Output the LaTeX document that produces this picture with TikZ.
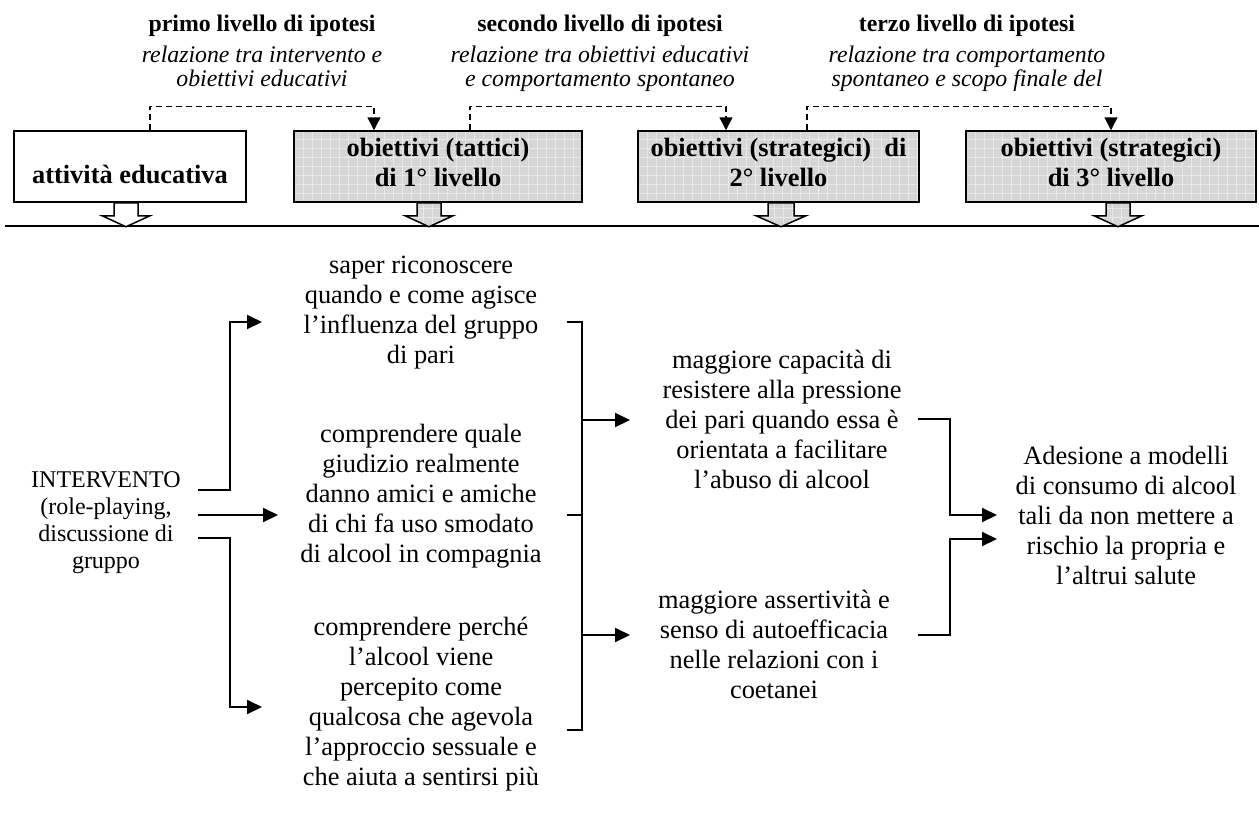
\documentclass[tikz,border=0pt]{standalone}
\usepackage{fontspec}
\setmainfont{Liberation Serif}
\usetikzlibrary{arrows.meta,calc}
\definecolor{boxgray}{RGB}{214,214,214}
\definecolor{gridgray}{RGB}{232,232,232}
\tikzset{
  struts/.style 2 args={execute at begin node={\rule{0pt}{#1pt}},
                        execute at end node={\rule[-#2pt]{0pt}{#2pt}}},
  gridfill/.style={fill=boxgray, path picture={
      \coordinate (pA) at (path picture bounding box.south west);
      \coordinate (pB) at (path picture bounding box.north east);
      \foreach \k in {0,...,34}{\draw[gridgray,line width=0.8pt] ([xshift={\k*9}]pA) -- ([xshift={\k*9}]pA |- pB);}
      \foreach \k in {0,...,10}{\draw[gridgray,line width=0.8pt] ([yshift={\k*9}]pA) -- ([yshift={\k*9}]pA -| pB);}
  }},
  bodytxt/.style={align=center, inner sep=0pt, font=\fontsize{26.4}{30}\selectfont, struts={22}{22}},
  hdr/.style={align=center, inner sep=0pt, font=\fontsize{23.8}{24}\selectfont, struts={22}{22}},
  hbox/.style={draw, line width=1.5pt, inner sep=0pt, minimum height=71pt, align=center,
               font=\bfseries\fontsize{26.4}{30}\selectfont},
  twoline/.style={struts={25}{8}},
  oneline/.style={struts={39}{6}},
  conn/.style={line width=2pt, -{Triangle[length=15pt,width=14pt]}},
  brk/.style={line width=2pt},
  dasharr/.style={line width=1.5pt, dash pattern=on 6pt off 4pt, -{Triangle[length=13pt,width=13pt]}},
  barrow/.style={line width=1.5pt},
}
\begin{document}
\begin{tikzpicture}[x=1pt,y=-1pt]
\useasboundingbox (0,0) rectangle (1259,820);

% headers
\node[hdr] (h1) at (262,61.5) {\textbf{primo livello di ipotesi}\\[7pt]\textit{relazione tra intervento e}\\\textit{obiettivi educativi}};
\node[hdr] (h2) at (600,61.5) {\textbf{secondo livello di ipotesi}\\[7pt]\textit{relazione tra obiettivi educativi}\\\textit{e comportamento spontaneo}};
\node[hdr] (h3) at (967,61.5) {\textbf{terzo livello di ipotesi}\\[7pt]\textit{relazione tra comportamento}\\\textit{spontaneo e scopo finale del}};

% rule
\coordinate (rl) at (5,226);
\coordinate (rr) at (1259,226);
\draw[line width=2pt] (rl) -- (rr);

% boxes
\node[hbox, oneline, fill=white, minimum width=232pt] (b1) at (130,166.5) {attività educativa};
\node[hbox, twoline, gridfill, minimum width=288pt] (b2) at (438,166.5) {obiettivi (tattici)\\di 1° livello};
\node[hbox, twoline, gridfill, minimum width=281pt] (b3) at (778.5,166.5) {obiettivi (strategici)~~di\\2° livello};
\node[hbox, twoline, gridfill, minimum width=290pt] (b4) at (1111,166.5) {obiettivi (strategici)\\di 3° livello};

% block arrows
\draw[barrow, fill=white] ([xshift=-16]b1.south) -- ++(0,13) -- ++(-12,0) -- ++(24,11) -- ++(24,-11) -- ++(-12,0) -- ++(0,-13) -- cycle;
\draw[barrow, gridfill] ([xshift=-9]b2.south) -- ++(-12,0) -- ++(0,13) -- ++(-12,0) -- ++(24,11) -- ++(24,-11) -- ++(-12,0) -- ++(0,-13) -- cycle;
\draw[barrow, gridfill] ([xshift=2.5]b3.south) -- ++(-13,0) -- ++(0,13) -- ++(-12,0) -- ++(25,11) -- ++(25,-11) -- ++(-12,0) -- ++(0,-13) -- cycle;
\draw[barrow, gridfill] ([xshift=7]b4.south) -- ++(-12,0) -- ++(0,13) -- ++(-12,0) -- ++(24,11) -- ++(24,-11) -- ++(-12,0) -- ++(0,-13) -- cycle;

% dashed hypothesis arrows
\draw[dasharr] ([xshift=20]b1.north) -- ++(0,-24) -| ([xshift=-64]b2.north);
\draw[dasharr] ([xshift=32]b2.north) -- ++(0,-24) -| ([xshift=-52.5]b3.north);
\draw[dasharr] ([xshift=28.5]b3.north) -- ++(0,-24) -| (b4.north);

% lower texts
\node[align=center, inner sep=0pt, font=\fontsize{24}{27}\selectfont, struts={22}{22}] (iv) at (106,531.5)
  {INTERVENTO\\(role-playing,\\discussione di\\gruppo};
\node[bodytxt] (t1) at (421,321) {saper riconoscere\\quando e come agisce\\l’influenza del gruppo\\di pari};
\node[bodytxt] (t2) at (421,504) {comprendere quale\\giudizio realmente\\danno amici e amiche\\di chi fa uso smodato\\di alcool in compagnia};
\node[bodytxt] (t3) at (421,712) {comprendere perché\\l’alcool viene\\percepito come\\qualcosa che agevola\\l’approccio sessuale e\\che aiuta a sentirsi più};
\node[bodytxt] (t4) at (782,430) {maggiore capacità di\\resistere alla pressione\\dei pari quando essa è\\orientata a facilitare\\l’abuso di alcool};
\node[bodytxt] (t5) at (774,655) {maggiore assertività e\\senso di autoefficacia\\nelle relazioni con i\\coetanei};
\node[bodytxt] (t6) at (1126,526) {Adesione a modelli\\di consumo di alcool\\tali da non mettere a\\rischio la propria e\\l’altrui salute};

% connector end points
\coordinate (s1) at (198,490);
\coordinate (s2) at (198,515);
\coordinate (s3) at (198,538);
\coordinate (e1) at (262,322);
\coordinate (e2) at (278,515);
\coordinate (e3) at (262,707);
\draw[conn] (s1) -- ++(32,0) |- (e1);
\draw[conn] (s2) -- (e2);
\draw[conn] (s3) -- ++(32,0) |- (e3);

% bracket 1
\coordinate (k1) at (567,322);
\coordinate (k2) at (567,515);
\coordinate (k3) at (567,730);
\draw[brk] (k1) -- ++(15,0) -- ($(k3)+(15,0)$) -- (k3);
\draw[brk] (k2) -- ++(15,0);
\coordinate (f1) at (630,420);
\coordinate (f2) at (630,635);
\draw[conn] (f1 -| 582,0) -- (f1);
\draw[conn] (f2 -| 582,0) -- (f2);

% bracket 2
\coordinate (m1) at (918,419);
\coordinate (m2) at (918,635);
\coordinate (g1) at (997,515);
\coordinate (g2) at (997,539);
\draw[conn] (m1) -- ++(32,0) |- (g1);
\draw[conn] (m2) -- ++(32,0) |- (g2);
\end{tikzpicture}
\end{document}
